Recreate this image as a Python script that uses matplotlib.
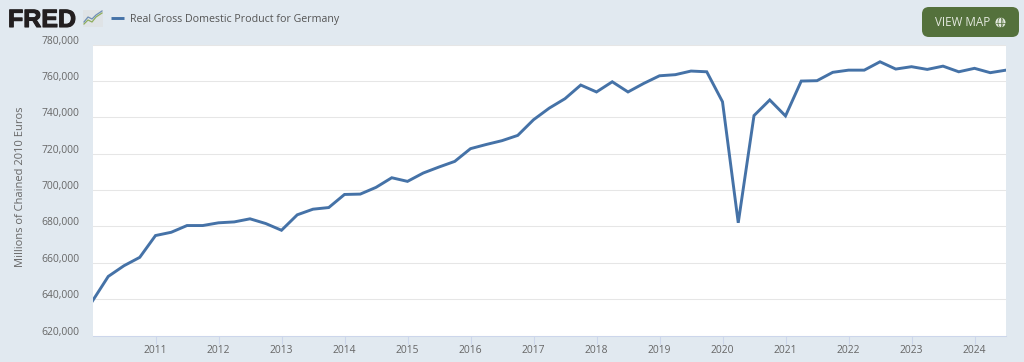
#!/bin/python

import matplotlib
matplotlib.use('Agg')
import matplotlib.pyplot as plt
import matplotlib.patheffects as pe
from matplotlib.patches import FancyBboxPatch, Circle, Ellipse, Rectangle
from matplotlib.ticker import FuncFormatter
from matplotlib.transforms import ScaledTranslation
import numpy as np

series_name = 'Real Gross Domestic Product for Germany'
y_label = 'Millions of Chained 2010 Euros'

# quarterly, 2010 Q1 to 2024 Q3
gdp = [639000, 652500, 658400, 663000,
       675000, 676800, 680500, 680500,
       682000, 682500, 684200, 681600,
       677900, 686400, 689500, 690400,
       697600, 697800, 701500, 706800,
       704800, 709400, 712700, 715800,
       722800, 725100, 727200, 730100,
       738700, 745100, 750300, 757800,
       754000, 759600, 754000, 758700,
       762900, 763500, 765500, 765100,
       748600, 682000, 741000, 749600,
       740800, 760000, 760200, 764800,
       766000, 766000, 770600, 766600,
       767900, 766400, 768200, 765100,
       767000, 764600, 766000]
years = np.arange(2010, 2010 + len(gdp) * 0.25, 0.25)
x_ticks = list(range(2011, 2025))
y_ticks = list(range(620000, 780001, 20000))

bg = '#e1e9f0'
line_color = '#4572a7'
text_color = '#666666'
W, H = 1024, 362

plt.rcParams['font.family'] = ['Open Sans', 'DejaVu Sans']

fig = plt.figure(figsize=(W / 100, H / 100), dpi=100, facecolor=bg)
ax = fig.add_axes([92.5 / W, 1 - 335.5 / H, (1006 - 92.5) / W, (335.5 - 44.7) / H])
ax.plot(years, gdp, color=line_color, lw=2.1, solid_joinstyle='miter')
ax.set_xlim(2010, 2024.5)
ax.set_ylim(620000 + 300, 780000)
ax.set_xticks(x_ticks)
ax.set_yticks(y_ticks)
ax.yaxis.set_major_formatter(FuncFormatter(lambda v, p: '{:,.0f}'.format(v)))
ax.grid(True, axis='y', color='#e6e6e6', lw=0.75)
ax.set_axisbelow(True)
for s in ['top', 'left', 'right']:
    ax.spines[s].set_visible(False)
ax.spines['bottom'].set_color('#ccd6eb')
ax.spines['bottom'].set_linewidth(0.75)
ax.tick_params(axis='y', length=0, pad=9.7, labelsize=7.4, labelcolor=text_color)
ax.tick_params(axis='x', length=5.5, width=0.75, color='#ccd6eb', pad=1.5, labelsize=7.4, labelcolor=text_color)
# y labels sit a little above their gridlines
shift = ScaledTranslation(0, 5 / 100, fig.dpi_scale_trans)
for lab in ax.get_yticklabels():
    lab.set_transform(lab.get_transform() + shift)
fig.text(21 / W, 1 - 187 / H, y_label, rotation=90, ha='center', va='center',
         fontsize=8.0, color=text_color)

# overlay in pixel coordinates for header bits
over = fig.add_axes([0, 0, 1, 1], facecolor='none')
over.set_xlim(0, W)
over.set_ylim(H, 0)
over.axis('off')

over.text(8, 27, 'FRED', fontsize=18, fontweight='bold', color='#231f20',
          family=['Liberation Sans', 'DejaVu Sans'], va='baseline', ha='left',
          path_effects=[pe.withStroke(linewidth=0.8, foreground='#231f20')])
over.add_patch(Rectangle((83, 10), 20, 17, fc='#dfe3e6', ec='none'))
over.plot([84, 88, 92, 96, 102], [24, 20, 22, 17, 13], color='#8fae5d', lw=0.9)
over.plot([84, 88, 92, 96, 102], [22, 17, 19, 15, 11], color='#6f8fb5', lw=0.9)

over.plot([111, 124], [18, 18], color=line_color, lw=2.1, solid_capstyle='butt')
over.text(129.5, 19.5, series_name, fontsize=7.7, color='#555555', va='center', ha='left')

over.add_patch(FancyBboxPatch((922, 7), 97, 30, boxstyle='round,pad=0,rounding_size=7',
                              fc='#54713c', ec='none'))
over.text(935, 22.5, 'VIEW MAP', fontsize=8.4, color='#e4e9df', va='center', ha='left')
over.add_patch(Circle((1000.5, 22.5), 5, fc='#e4e9df', ec='none'))
over.plot([995.5, 1005.5], [22.5, 22.5], color='#54713c', lw=0.5)
over.plot([1000.5, 1000.5], [17.5, 27.5], color='#54713c', lw=0.5)
over.add_patch(Ellipse((1000.5, 22.5), 5, 10, fc='none', ec='#54713c', lw=0.5))

fig.savefig('out.png', dpi=100, facecolor=bg)
